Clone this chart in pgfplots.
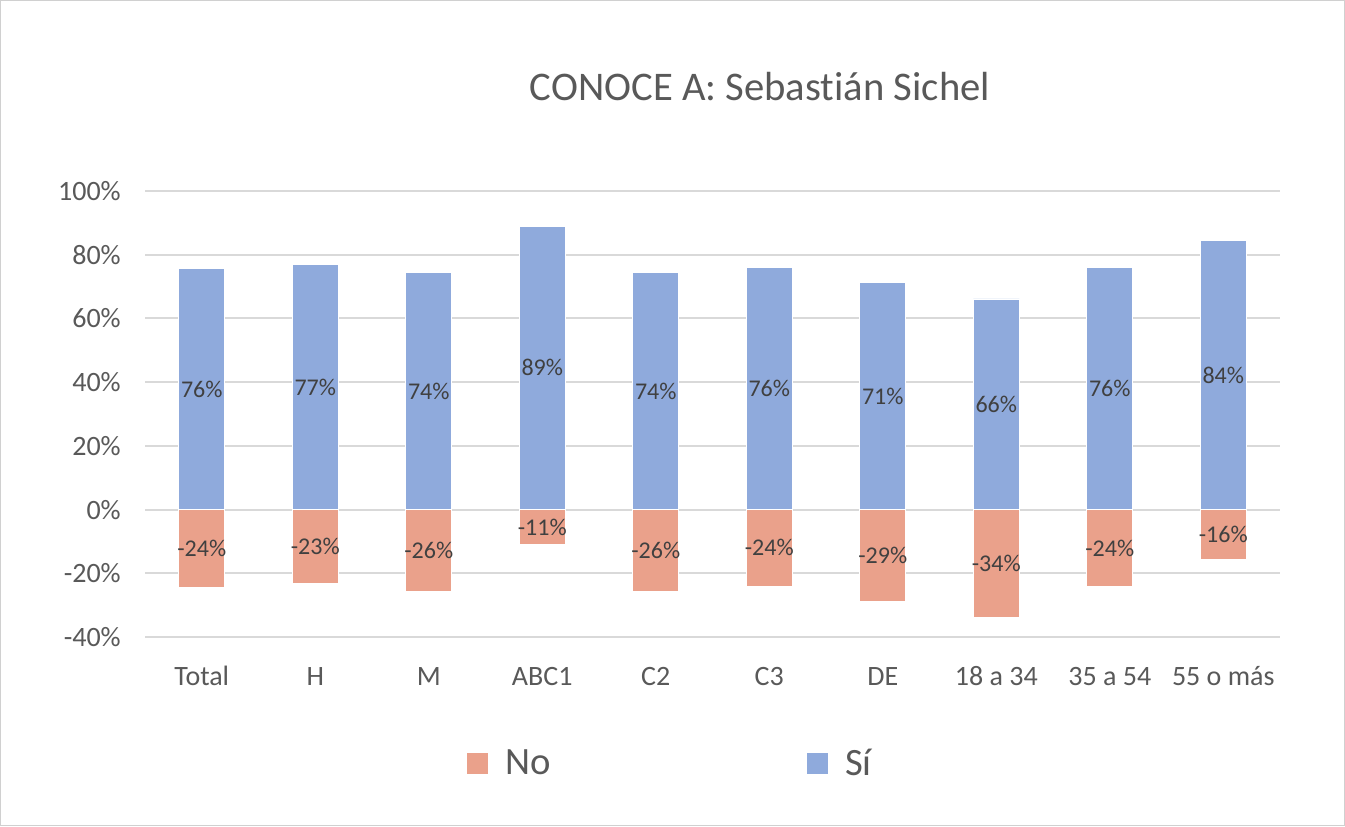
\documentclass[border=0pt]{standalone}
\usepackage{pgfplots}
\pgfplotsset{compat=1.18}
\usepackage{pgfplotstable}
\usepackage{fontspec}
\setmainfont{Carlito}[Ligatures=NoCommon]
\definecolor{siblue}{HTML}{8FAADC}
\definecolor{nosalmon}{HTML}{EAA18B}
\definecolor{gridgray}{HTML}{D9D9D9}
\definecolor{ticktext}{HTML}{595959}
\definecolor{labtext}{HTML}{404040}
\definecolor{framegray}{HTML}{D0D0D0}
\pgfplotstableread{
x si no silab nolab
0 75.6 -24.4 76\% -24\%
1 76.9 -23.1 77\% -23\%
2 74.3 -25.7 74\% -26\%
3 89.0 -11.0 89\% -11\%
4 74.4 -25.6 74\% -26\%
5 76.0 -24.0 76\% -24\%
6 71.3 -28.7 71\% -29\%
7 66.1 -33.9 66\% -34\%
8 75.9 -24.1 76\% -24\%
9 84.4 -15.6 84\% -16\%
}\datatable
\begin{document}
\begin{tikzpicture}
\useasboundingbox (0,0) rectangle (1008.75pt,619.5pt);
\fill[white] (0,0) rectangle (1008.75pt,619.5pt);
\draw[framegray, line width=0.8pt] (0.4pt,0.4pt) rectangle (1008.35pt,619.1pt);
\node[text=ticktext, font=\fontsize{30.5}{36}\selectfont] at (570pt,554.25pt) {CONOCE A: Sebastián Sichel};
\begin{axis}[
  at={(108.75pt,141.75pt)}, anchor=south west,
  width=851.25pt, height=334.5pt, scale only axis,
  xmin=-0.5, xmax=9.5, ymin=-40, ymax=100,
  xtick={0,...,9},
  xticklabels={Total,H,M,ABC1,C2,C3,DE,18 a 34,35 a 54,55 o más},
  ytick={-40,-20,...,100},
  yticklabel={\pgfmathprintnumber{\tick}\%},
  /pgf/number format/assume math mode=true,
  axis line style={draw=none},
  major tick length=0pt,
  ymajorgrids,
  grid style={gridgray, line width=1.4pt},
  tick label style={text=ticktext, font=\fontsize{21}{25}\selectfont},
  xticklabel style={anchor=base, inner sep=0pt, yshift=-36pt},
  yticklabel style={anchor=east, inner sep=0pt, xshift=-18pt},
  legend columns=2,
  legend style={at={(rel axis cs:0,0)}, anchor=west, xshift=240.75pt, yshift=-94.5pt,
    draw=none, fill=none, inner sep=0pt,
    font=\fontsize{29}{34}\selectfont, text=ticktext,
    /tikz/every odd column/.append style={column sep=10pt},
    /tikz/every even column/.append style={column sep=190pt}},
  legend image code/.code={\fill[#1] (0pt,-8.25pt) rectangle (16.5pt,8.25pt);},
  clip=false,
]
\addplot[ybar, bar width=0.405, bar shift=0pt, fill=nosalmon, draw=white, line width=0.6pt] table[x=x, y=no] {\datatable};
\addlegendentry{No}
\addplot[ybar, bar width=0.405, bar shift=0pt, fill=siblue, draw=white, line width=0.6pt] table[x=x, y=si] {\datatable};
\addlegendentry{Sí}
\addplot[forget plot, only marks, mark=*, mark size=0pt, mark options={draw=none, fill=none},
  nodes near coords, point meta=explicit symbolic,
  every node near coord/.append style={anchor=center, text=labtext, font=\fontsize{18}{22}\selectfont, inner sep=0pt}]
  table[x=x, y expr=\thisrow{si}/2, meta=silab] {\datatable};
\addplot[forget plot, only marks, mark=*, mark size=0pt, mark options={draw=none, fill=none},
  nodes near coords, point meta=explicit symbolic,
  every node near coord/.append style={anchor=center, text=labtext, font=\fontsize{18}{22}\selectfont, inner sep=0pt}]
  table[x=x, y expr=\thisrow{no}/2, meta=nolab] {\datatable};
\end{axis}
\end{tikzpicture}
\end{document}
